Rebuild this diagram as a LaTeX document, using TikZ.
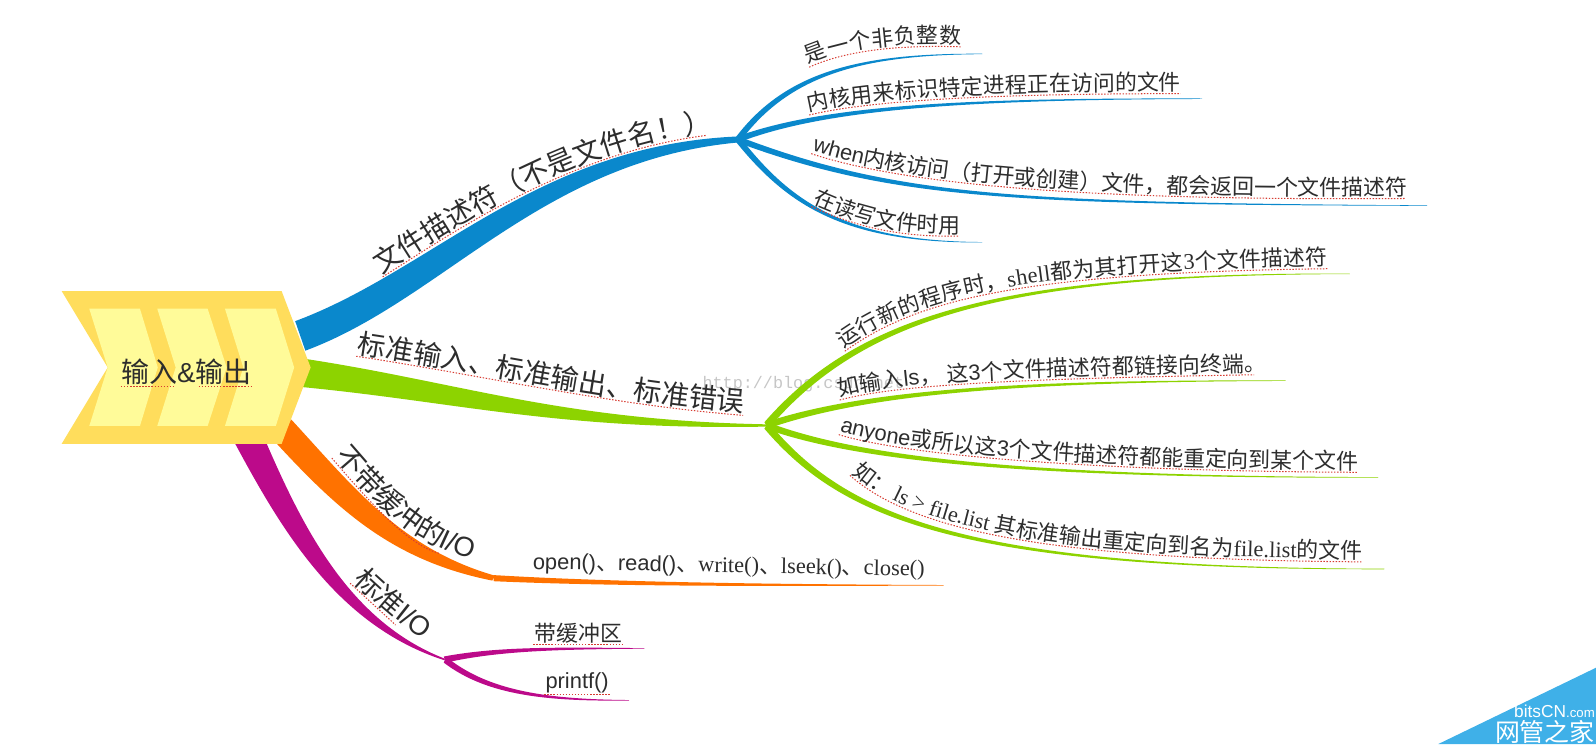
\documentclass[tikz,border=0pt]{standalone}
\usepackage{xcolor}
\usepackage{fontspec}
\setmainfont{Liberation Serif}
\setsansfont{Liberation Sans}
\setmonofont{Liberation Mono}
\newfontfamily\cjkfont{Noto Sans CJK SC}
\usetikzlibrary{calc,decorations.text}
\definecolor{hubgold}{RGB}{255,221,92}
\definecolor{hubpale}{RGB}{255,251,153}
\definecolor{limbblue}{RGB}{10,136,204}
\definecolor{limbgreen}{RGB}{141,211,0}
\definecolor{limborange}{RGB}{255,114,0}
\definecolor{limbpink}{RGB}{188,10,138}
\definecolor{cornerblue}{RGB}{63,176,232}
\definecolor{squig}{RGB}{215,60,50}
\definecolor{inkc}{RGB}{45,45,45}
\newcommand{\bigzh}{\cjkfont\fontsize{27.5}{30}\selectfont}
\newcommand{\bighv}{\sffamily\fontsize{27}{30}\selectfont}
\newcommand{\zh}{\cjkfont\fontsize{21.5}{24}\selectfont}
\newcommand{\hv}{\sffamily\fontsize{21.5}{24}\selectfont}
\newcommand{\ser}{\rmfamily\fontsize{22}{24}\selectfont}
\tikzset{
  hubout/.style={fill=hubgold},
  hubin/.style={fill=hubpale},
  bluelimb/.style={fill=limbblue},
  greenlimb/.style={fill=limbgreen},
  orangelimb/.style={fill=limborange},
  pinklimb/.style={fill=limbpink},
  lbl/.style={text=inkc, inner sep=1pt},
  squigline/.style={squig, line width=1pt, dash pattern=on 1.4pt off 1.6pt}
}
% tapered limb: style, start, control, control, end, half width at the start
\newcommand{\limb}[6]{
  \coordinate (off) at (#6);
  \fill[#1] ($(#2)+(off)$) .. controls ($(#3)+0.7*(off)$) and ($(#4)+0.35*(off)$) .. ($(#5)+0.08*(off)$)
    -- ($(#5)-0.08*(off)$) .. controls ($(#4)-0.35*(off)$) and ($(#3)-0.7*(off)$) .. ($(#2)-(off)$) -- cycle;
}
% same, but it stays thick for longer
\newcommand{\trunk}[6]{
  \coordinate (off) at (#6);
  \fill[#1] ($(#2)+(off)$) .. controls ($(#3)+(off)$) and ($(#4)+0.5*(off)$) .. ($(#5)+0.2*(off)$)
    -- ($(#5)-0.2*(off)$) .. controls ($(#4)-0.5*(off)$) and ($(#3)-(off)$) .. ($(#2)-(off)$) -- cycle;
}
% text that follows a limb, dotted line under it (shortened by the option)
\newcommand{\bentlbl}[7][0pt]{
  \draw[squigline, shorten >=#1] (#3) .. controls (#4) and (#5) .. (#6);
  \path[decorate, decoration={text along path, text align={fit to path}, raise=3pt, text color=inkc, text={#2#7}}]
    (#3) .. controls (#4) and (#5) .. (#6);
}
\begin{document}
\begin{tikzpicture}[x=1pt, y=-1pt]
\useasboundingbox (0,0) rectangle (1568,731);
\node (stamp) [text=gray!45, font=\ttfamily\fontsize{16.5}{18}\selectfont, anchor=west, inner sep=0pt] at (690,377) {http://blog.csdn.net};
% fixed points of the map
\coordinate (hubB) at (295,330);
\coordinate (hubG) at (295,366);
\coordinate (hubO) at (279,424);
\coordinate (hubP) at (243,428);
\coordinate (forkB) at (725,137);
\coordinate (forkG) at (753,418);
\coordinate (forkO) at (485,568);
\coordinate (forkP) at (437,648);
\coordinate (b1) at (965,53);
\coordinate (b2) at (1181,97);
\coordinate (b3) at (1402,202);
\coordinate (b4) at (965,238);
\coordinate (g1) at (1326,269);
\coordinate (g2) at (1263,374);
\coordinate (g3) at (1354,469);
\coordinate (g4) at (1360,559);
\coordinate (o1) at (927,575);
\coordinate (p1) at (633,637);
\coordinate (p2) at (618,688);
% trunks
\trunk{bluelimb}{hubB}{430,280}{530,150}{forkB}{5,14.5}
\limb{greenlimb}{hubG}{450,385}{550,418}{forkG}{-1,14}
\trunk{orangelimb}{hubO}{340,490}{390,545}{forkO}{7,-12}
\limb{pinklimb}{hubP}{285,515}{335,612}{forkP}{13,-6}
% leaves
\limb{bluelimb}{forkB}{775,70}{850,53}{b1}{1.8,2.6}
\limb{bluelimb}{forkB}{810,105}{950,97}{b2}{1,2.8}
\limb{bluelimb}{forkB}{880,195}{1000,200}{b3}{-1,2.8}
\limb{bluelimb}{forkB}{775,200}{830,238}{b4}{-1.8,2.6}
\limb{greenlimb}{forkG}{850,305}{1000,269}{g1}{2,3.2}
\limb{greenlimb}{forkG}{850,385}{1000,374}{g2}{1,3.2}
\limb{greenlimb}{forkG}{840,450}{1000,469}{g3}{-1,3.2}
\limb{greenlimb}{forkG}{830,510}{950,559}{g4}{-2,3.2}
\limb{orangelimb}{forkO}{600,574}{750,575}{o1}{0,3}
\limb{pinklimb}{forkP}{490,637}{550,637}{p1}{1,3}
\limb{pinklimb}{forkP}{480,682}{540,688}{p2}{-1,3}
% hub
\fill[hubout] (60.6,286) -- (276.7,286) -- (305.2,361) -- (276.7,436) -- (60.6,436) -- (105.8,361) -- cycle;
\fill[hubin] (87.7,303.3) -- (137.5,303.3) -- (155,361) -- (137.5,418.5) -- (87.7,418.5) -- (105.8,361) -- cycle;
\fill[hubin] (154.5,303.3) -- (204,303.3) -- (222.7,361) -- (204,418.5) -- (154.5,418.5) -- (172.6,361) -- cycle;
\fill[hubin] (221,303.3) -- (271,303.3) -- (289,361) -- (271,418.5) -- (221,418.5) -- (239,361) -- cycle;
\node (hub) [lbl] at (183,365) {\bigzh 输入\bighv\&\bigzh 输出};
\draw[squigline] ($(hub.south west)+(1,1)$) -- ($(hub.south west)+(53,1)$);
\draw[squigline] ($(hub.south east)+(-53,1)$) -- ($(hub.south east)+(-1,1)$);
% labels on the trunks
\bentlbl{|\bigzh|}{376,272}{450,225}{560,150}{694,133}{文件描述符（不是文件名！）}
\bentlbl{|\bigzh|}{350,350}{470,368}{600,398}{730,408}{标准输入、标准输出、标准错误}
\bentlbl[32pt]{|\bigzh|}{326,450}{362,492}{400,535}{462,552}{不带缓冲的|\bighv|I/O}
\bentlbl[30pt]{|\bigzh|}{344,573}{370,597}{390,615}{414,630}{标准|\bighv|I/O}
% labels on the leaves
\bentlbl{|\zh|}{795,66}{830,50}{880,44}{944,46}{是一个非负整数}
\bentlbl{|\zh|}{795,113}{860,97}{1000,92}{1160,92}{内核用来标识特定进程正在访问的文件}
\bentlbl{|\hv|}{797,151}{900,185}{1100,197}{1380,195}{when|\zh|内核访问（打开或创建）文件，都会返回一个文件描述符}
\bentlbl{|\zh|}{797,203}{840,222}{880,233}{942,232}{在读写文件时用}
\bentlbl{|\zh|}{830,345}{900,295}{1000,268}{1304,264}{运行新的程序时，|\ser|shell|\zh|都为其打开这|\ser|3|\zh|个文件描述符}
\bentlbl[12pt]{|\zh|}{825,393}{880,378}{1000,372}{1244,368}{如输入|\hv|ls|\zh|， 这|\hv|3|\zh|个文件描述符都链接向终端。}
\bentlbl{|\hv|}{824,427}{900,450}{1100,463}{1333,464}{anyone|\zh|或所以这|\hv|3|\zh|个文件描述符都能重定向到某个文件}
\bentlbl{|\zh|}{835,467}{900,525}{1050,550}{1338,552}{如： |\ser|ls > file.list |\zh|其标准输出重定向到名为|\ser|file.list|\zh|的文件}
% flat labels
\node (calls) [lbl, rotate=-1] at (716,557) {\hv open()\zh 、\hv read()\zh 、\ser write()\zh 、\ser lseek()\zh 、\ser close()};
\node (buf) [lbl] at (568,622) {\zh 带缓冲区};
\draw[squigline] (buf.south west) -- (buf.south east);
\node (pf) [lbl] at (567,671) {\hv printf()};
\draw[squigline] (pf.south west) -- (pf.south east);
% corner badge
\fill[cornerblue] (1413,731) -- (1568,656) -- (1568,731) -- cycle;
\node (site) [text=white, font=\sffamily\fontsize{17}{18}\selectfont, anchor=east, inner sep=0pt] at (1567,699) {bitsCN{\fontsize{13}{14}\selectfont.com}};
\node (sitecn) [text=white, anchor=east, inner sep=0pt] at (1567,719) {\cjkfont\fontsize{24.5}{26}\selectfont 网管之家};
\end{tikzpicture}
\end{document}
